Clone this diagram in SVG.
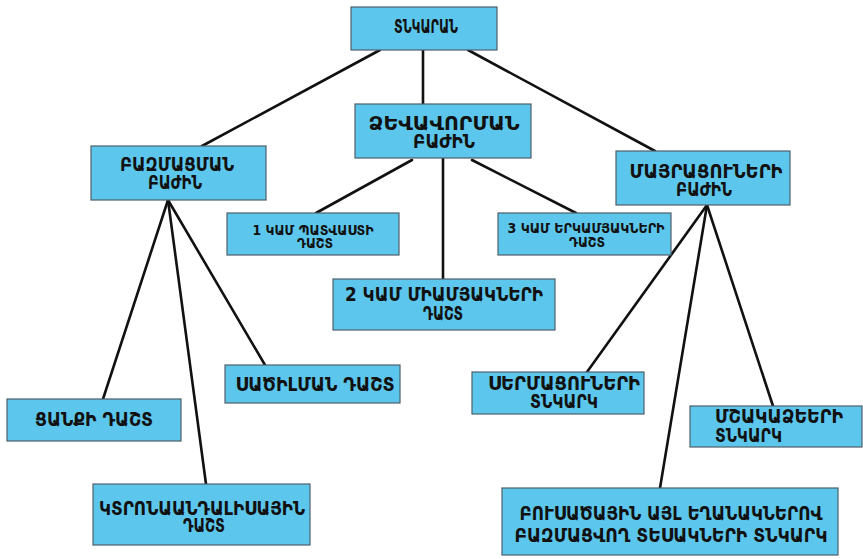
<svg xmlns="http://www.w3.org/2000/svg" width="863" height="559" viewBox="0 0 863 559">
<style>
.box{fill:#5cc6ec;stroke:#4d5f6a;stroke-width:1.2}
.t{font-family:"DejaVu Sans","Noto Sans",sans-serif;font-weight:bold;fill:#111;text-anchor:middle}
.l{font-size:19px}
.s{font-size:13.5px}
.c line{stroke:#111;stroke-width:2.6;stroke-linecap:round}
</style>
<rect width="863" height="559" fill="#fff"/>
<g class="c" id="connectors">
<line x1="423" y1="50" x2="423" y2="104"/>
<line x1="380" y1="50" x2="202" y2="146"/>
<line x1="468" y1="50" x2="655" y2="151"/>
<line x1="443" y1="158" x2="443" y2="279"/>
<line x1="412" y1="160" x2="316" y2="213"/>
<line x1="472" y1="160" x2="576" y2="213"/>
<line x1="168" y1="200" x2="103" y2="399"/>
<line x1="168" y1="200" x2="206" y2="484"/>
<line x1="168" y1="200" x2="265" y2="365"/>
<line x1="707" y1="205" x2="587" y2="372"/>
<line x1="707" y1="205" x2="660" y2="488"/>
<line x1="707" y1="205" x2="773" y2="406"/>
</g>
<g id="n1"><rect class="box" x="351" y="7" width="146" height="43"/><text class="t l" x="426" y="33" textLength="64" lengthAdjust="spacingAndGlyphs">ՏՆԿԱՐԱՆ</text></g>
<g id="n2"><rect class="box" x="355" y="104" width="176" height="54"/><text class="t l" x="444" y="130" textLength="151" lengthAdjust="spacingAndGlyphs">ՁԵՎԱՎՈՐՄԱՆ</text><text class="t l" x="444" y="148" textLength="62" lengthAdjust="spacingAndGlyphs">ԲԱԺԻՆ</text></g>
<g id="n3"><rect class="box" x="91" y="146" width="175" height="54"/><text class="t l" x="177" y="171" textLength="114" lengthAdjust="spacingAndGlyphs">ԲԱԶՄԱՑՄԱՆ</text><text class="t l" x="175" y="189" textLength="54" lengthAdjust="spacingAndGlyphs">ԲԱԺԻՆ</text></g>
<g id="n4"><rect class="box" x="616" y="151" width="174" height="54"/><text class="t l" x="706" y="178" textLength="153" lengthAdjust="spacingAndGlyphs">ՄԱՅՐԱՑՈՒՆԵՐԻ</text><text class="t l" x="704" y="196" textLength="56" lengthAdjust="spacingAndGlyphs">ԲԱԺԻՆ</text></g>
<g id="n5"><rect class="box" x="227" y="213" width="172" height="42"/><text class="t s" x="313" y="235" textLength="121" lengthAdjust="spacingAndGlyphs">1 ԿԱՄ ՊԱՏՎԱՍՏԻ</text><text class="t s" x="315" y="248" textLength="36" lengthAdjust="spacingAndGlyphs">ԴԱՇՏ</text></g>
<g id="n6"><rect class="box" x="498" y="213" width="173" height="42"/><text class="t s" x="586" y="233" textLength="157" lengthAdjust="spacingAndGlyphs">3 ԿԱՄ ԵՐԿԱՄՅԱԿՆԵՐԻ</text><text class="t s" x="587" y="247" textLength="36" lengthAdjust="spacingAndGlyphs">ԴԱՇՏ</text></g>
<g id="n7"><rect class="box" x="333" y="279" width="222" height="51"/><text class="t l" x="444" y="301" textLength="198" lengthAdjust="spacingAndGlyphs">2 ԿԱՄ ՄԻԱՄՅԱԿՆԵՐԻ</text><text class="t l" x="443" y="320" textLength="40" lengthAdjust="spacingAndGlyphs">ԴԱՇՏ</text></g>
<g id="n8"><rect class="box" x="225" y="365" width="175" height="38"/><text class="t l" x="315" y="391" textLength="159" lengthAdjust="spacingAndGlyphs">ՍԱԾԻԼՄԱՆ ԴԱՇՏ</text></g>
<g id="n9"><rect class="box" x="7" y="399" width="174" height="42"/><text class="t l" x="94" y="426" textLength="118" lengthAdjust="spacingAndGlyphs">ՑԱՆՔԻ ԴԱՇՏ</text></g>
<g id="n10"><rect class="box" x="472" y="372" width="172" height="42"/><text class="t l" x="564" y="390" textLength="152" lengthAdjust="spacingAndGlyphs">ՍԵՐՄԱՑՈՒՆԵՐԻ</text><text class="t l" x="564" y="408" textLength="68" lengthAdjust="spacingAndGlyphs">ՏՆԿԱՐԿ</text></g>
<g id="n11"><rect class="box" x="690" y="406" width="172" height="41"/><text class="t l" x="779" y="423" textLength="128" lengthAdjust="spacingAndGlyphs">ՄՇԱԿԱՁԵԵՐԻ</text><text class="t l" x="748.5" y="442" textLength="67" lengthAdjust="spacingAndGlyphs">ՏՆԿԱՐԿ</text></g>
<g id="n12"><rect class="box" x="93" y="484" width="217" height="61"/><text class="t l" x="202" y="515" textLength="206" lengthAdjust="spacingAndGlyphs">ԿՏՐՈՆԱԱՆԴԱԼԻՍԱՅԻՆ</text><text class="t l" x="204" y="532" textLength="42" lengthAdjust="spacingAndGlyphs">ԴԱՇՏ</text></g>
<g id="n13"><rect class="box" x="502" y="488" width="336" height="67"/><text class="t l" x="671" y="520" textLength="303" lengthAdjust="spacingAndGlyphs">ԲՈՒՍԱԾԱՅԻՆ ԱՅԼ ԵՂԱՆԱԿՆԵՐՈՎ</text><text class="t l" x="671" y="542" textLength="313" lengthAdjust="spacingAndGlyphs">ԲԱԶՄԱՑՎՈՂ ՏԵՍԱԿՆԵՐԻ ՏՆԿԱՐԿ</text></g>
</svg>
